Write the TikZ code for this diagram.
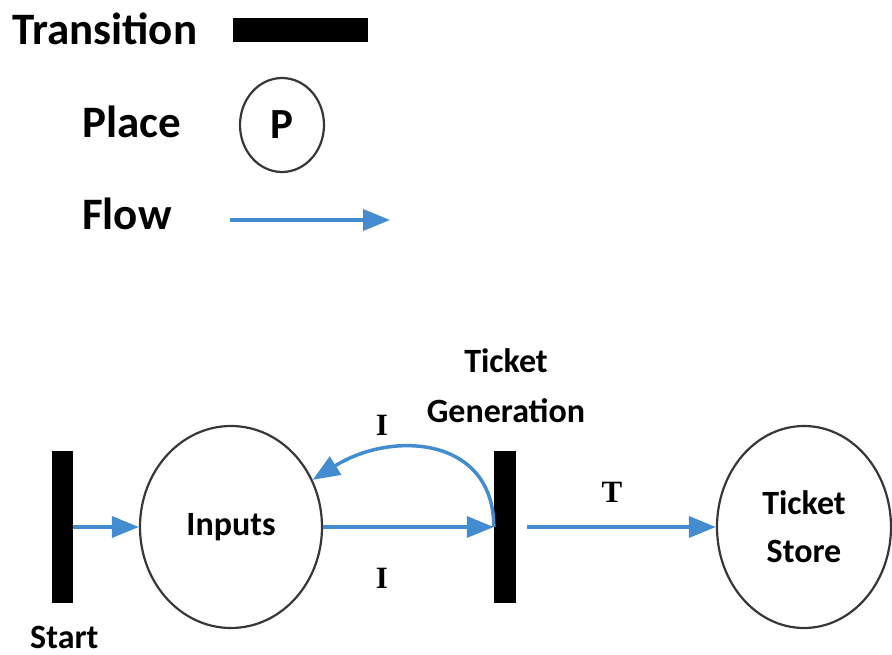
\documentclass[tikz,border=0pt]{standalone}
\usepackage{fontspec}
\setmainfont{Carlito}
\newfontfamily\serifbold{Liberation Serif}
\usetikzlibrary{arrows.meta,shapes.geometric}
\definecolor{flowblue}{RGB}{68,140,208}
\definecolor{ringgray}{RGB}{55,55,55}

\begin{document}
\begin{tikzpicture}[x=1pt,y=-1pt,
  bar/.style={fill=black, draw=none, inner sep=0pt},
  placenode/.style={ellipse, draw=ringgray, line width=2.2pt, inner sep=0pt,
    font=\fontsize{34}{48}\selectfont\bfseries, align=center},
  flow/.style={draw=flowblue, line width=3.5pt, -{Triangle[length=27pt,width=21pt]}},
  lgnd/.style={font=\fontsize{45}{54}\selectfont\bfseries, anchor=base west, inner sep=0pt},
  lbl/.style={font=\fontsize{34}{50}\selectfont\bfseries, inner sep=0pt},
  arclbl/.style={font=\serifbold\fontsize{31}{36}\selectfont\bfseries, anchor=base, inner sep=0pt}]

\useasboundingbox (0,0) rectangle (892,655);

% legend
\node[lgnd] (ltrans) at (12,45) {Transition};
\node[bar, minimum width=135pt, minimum height=24pt] (lbar) at (300.5,30) {};
\node[lgnd] (lplace) at (82,138) {Place};
\node[placenode, minimum width=84pt, minimum height=94pt,
      font=\fontsize{43}{50}\selectfont\bfseries] (lp) at (282,125) {P};
\node[lgnd] (lflow) at (82,230) {Flow};
\coordinate (fa) at (230,220);
\coordinate (fb) at (390,220);
\draw[flow] (fa) -- (fb);

% net
\node[bar, minimum width=21pt, minimum height=152pt] (start) at (62.5,527) {};
\node[lbl, anchor=base west] (startlbl) at (30,648) {Start};
\node[placenode, minimum width=182pt, minimum height=202pt] (inputs) at (231,527) {Inputs};
\node[bar, minimum width=22pt, minimum height=152pt] (tgen) at (505,527) {};
\node[lbl, align=center, anchor=base] (tgenlbl) at (506,422) {Ticket\\Generation};
\node[placenode, minimum width=174pt, minimum height=202pt] (store) at (804,527) {Ticket\\Store};

\draw[flow] (start.east) -- (inputs.west);
\draw[flow] (inputs.east) -- (tgen.west);
\draw[flow] (tgen.west) .. controls +(0,-90) and +(80,-50) .. (inputs.30);
\draw[flow, shorten <=11pt] (tgen.east) -- (store.west);

\node[arclbl] (iup) at (382,435) {I};
\node[arclbl] (idown) at (382,588) {I};
\node[arclbl] (tlbl) at (612,502) {T};
\end{tikzpicture}
\end{document}
